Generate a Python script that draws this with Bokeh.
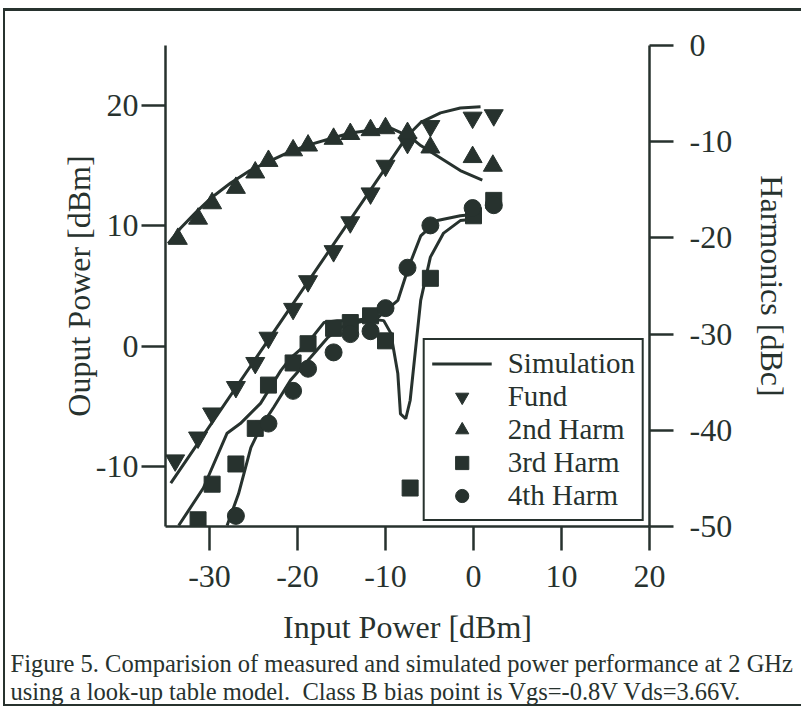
from bokeh.plotting import figure
from bokeh.models import Range1d, LinearAxis, FixedTicker, Legend, LegendItem, Title
from bokeh.embed import file_html
from bokeh.resources import INLINE

# ---- measured data ----
pin_fund = [-33.9, -31.3, -29.7, -27.0, -24.8, -23.3, -20.5, -18.8, -15.9, -14.0, -11.7, -10.0, -7.5, -4.9, -0.1, 2.3]
fund_dbm = [-9.5, -7.6, -5.6, -3.4, -1.4, 0.7, 3.1, 5.4, 7.9, 10.3, 12.7, 15.0, 16.9, 18.3, 19.0, 19.2]

pin_h2 = [-33.6, -31.3, -29.7, -27.0, -24.8, -23.3, -20.5, -18.8, -15.9, -14.0, -11.7, -10.0, -7.5, -4.9, -0.1, 2.2]
harm2_dbc = [-20.1, -18.0, -16.4, -14.8, -13.2, -12.0, -10.9, -10.4, -9.7, -9.2, -8.8, -8.6, -9.1, -10.6, -11.6, -12.5]

pin_h3 = [-31.3, -29.7, -27.0, -24.8, -23.3, -20.5, -18.8, -15.9, -14.0, -11.7, -10.0, -7.2, -4.9, 0.0, 2.3]
harm3_dbc = [-49.3, -45.6, -43.5, -39.8, -35.3, -33.0, -31.0, -29.4, -28.8, -28.1, -30.7, -46.0, -24.2, -17.7, -16.1]

pin_h4 = [-27.0, -23.3, -20.5, -18.8, -15.9, -14.0, -11.7, -10.0, -7.5, -4.9, -0.1, 2.3]
harm4_dbc = [-48.9, -39.3, -35.9, -33.6, -31.9, -30.0, -29.7, -27.3, -23.1, -18.7, -16.9, -16.6]

# ---- simulation curves ----
sim_fund_x = [-34.4, -7.5, -6.0, -3.75, -1.5, 0.8]
sim_fund_y = [-11.4, 17.5, 18.6, 19.4, 19.8, 19.9]

sim_h2_x = [-34.7, -33.3, -31.6, -29.9, -27.6, -25.4, -23.1, -20.8, -18.6, -16.3, -14.0, -11.7, -9.4, -7.2, -6.0, -3.75, -1.5, 1.0]
sim_h2_y = [-20.6, -19.0, -17.4, -15.9, -14.3, -13.0, -12.0, -11.0, -10.3, -9.7, -9.1, -8.8, -8.6, -9.5, -10.4, -11.7, -13.0, -14.0]

sim_h3_x = [-33.5, -30.7, -28.0, -26.5, -24.2, -21.9, -20.8, -18.9, -17.0, -15.5, -14.0, -12.0, -10.2, -9.4, -8.6, -8.3, -7.7, -7.2, -6.6, -6.0, -4.9, -3.4, -1.5, 0.5]
sim_h3_y = [-49.9, -46.0, -40.3, -39.3, -37.2, -33.8, -32.5, -31.0, -28.8, -28.6, -28.6, -28.4, -28.6, -29.9, -34.1, -38.3, -38.8, -36.9, -31.7, -26.5, -22.0, -19.5, -18.2, -18.0]

sim_h4_x = [-28.0, -26.7, -25.3, -24.2, -22.7, -20.8, -18.5, -16.6, -15.1, -13.2, -10.9, -8.6, -7.4, -6.0, -4.1, -1.5, 0.8]
sim_h4_y = [-49.9, -46.6, -41.8, -39.7, -37.6, -34.8, -32.4, -30.4, -29.3, -28.8, -28.3, -26.5, -23.1, -19.8, -18.2, -17.7, -17.5]

x_ticks = [-30, -20, -10, 0, 10, 20]
left_ticks = [-10, 0, 10, 20]
right_ticks = [0, -10, -20, -30, -40, -50]

INK = "#27322e"
FONT = "Liberation Serif"

p = figure(frame_width=484, frame_height=481,
           min_border_left=160, min_border_right=152, min_border_top=34, min_border_bottom=4,
           x_range=Range1d(-35, 20), y_range=Range1d(-15, 25),
           output_backend="svg", toolbar_location=None)
p.extra_y_ranges = {"harm": Range1d(-50, 0)}
p.grid.visible = False
p.outline_line_color = None
p.background_fill_color = "white"
p.border_fill_color = "white"
p.styles = {"margin-top": "8px", "margin-left": "3px",
            "border-top": "3px solid #27322e", "border-left": "2px solid #27322e",
            "border-bottom": "2px solid #27322e"}

p.xaxis.ticker = FixedTicker(ticks=x_ticks)
p.xaxis.major_label_overrides = {t: str(t) for t in x_ticks}
p.xaxis.axis_label = "Input Power [dBm]"
p.yaxis.ticker = FixedTicker(ticks=left_ticks)
p.yaxis.major_label_overrides = {t: str(t) for t in left_ticks}
p.yaxis.axis_label = "Ouput Power [dBm]"

ax_r = LinearAxis(y_range_name="harm", ticker=FixedTicker(ticks=right_ticks),
                  axis_label="Harmonics [dBc]")
ax_r.major_label_overrides = {t: str(t) for t in right_ticks}
p.add_layout(ax_r, "right")

for ax in [p.xaxis[0], p.yaxis[0], ax_r]:
    ax.axis_line_color = INK
    ax.axis_line_width = 2.5
    ax.major_tick_line_color = INK
    ax.major_tick_line_width = 2.5
    ax.major_tick_out = 24
    ax.major_tick_in = 0
    ax.minor_tick_line_color = None
    ax.major_label_text_font = FONT
    ax.major_label_text_font_size = "32px"
    ax.major_label_text_color = INK
    ax.axis_label_text_font = FONT
    ax.axis_label_text_font_size = "32px"
    ax.axis_label_text_font_style = "normal"
    ax.axis_label_text_color = INK

p.xaxis.major_label_standoff = 15
p.xaxis.axis_label_standoff = 19
p.yaxis.major_label_standoff = 3
p.yaxis.axis_label_standoff = -4
ax_r.major_label_standoff = 16
ax_r.axis_label_standoff = 19

# caption
cap1 = Title(text="Figure 5. Comparision of measured and simulated power performance at 2 GHz",
             align="left", offset=-155, text_font=FONT, text_font_size="24.5px",
             text_font_style="normal", text_color=INK, standoff=0)
cap2 = Title(text="using a look-up table model.\u00a0 Class B bias point is Vgs=-0.8V Vds=3.66V.",
             align="left", offset=-155, text_font=FONT, text_font_size="24.5px",
             text_font_style="normal", text_color=INK, standoff=-1)
p.add_layout(cap1, "below")
p.add_layout(cap2, "below")

# simulation lines
r_sf = p.line(sim_fund_x, sim_fund_y, line_color=INK, line_width=3)
p.line(sim_h2_x, sim_h2_y, line_color=INK, line_width=3, y_range_name="harm")
p.line(sim_h3_x, sim_h3_y, line_color=INK, line_width=3, y_range_name="harm")
p.line(sim_h4_x, sim_h4_y, line_color=INK, line_width=3, y_range_name="harm")

# measured markers
r_f = p.scatter(pin_fund, fund_dbm, marker="inverted_triangle", size=19,
                fill_color=INK, line_color=INK)
r_2 = p.scatter(pin_h2, harm2_dbc, marker="triangle", size=19,
                fill_color=INK, line_color=INK, y_range_name="harm")
r_3 = p.scatter(pin_h3, harm3_dbc, marker="square", size=16,
                fill_color=INK, line_color=INK, y_range_name="harm")
r_4 = p.scatter(pin_h4, harm4_dbc, marker="circle", size=17,
                fill_color=INK, line_color=INK, y_range_name="harm")

legend = Legend(items=[LegendItem(label="Simulation", renderers=[r_sf]),
                       LegendItem(label="Fund", renderers=[r_f]),
                       LegendItem(label="2nd Harm", renderers=[r_2]),
                       LegendItem(label="3rd Harm", renderers=[r_3]),
                       LegendItem(label="4th Harm", renderers=[r_4])],
                location="bottom_right", margin=5, padding=7, spacing=0,
                glyph_width=60, glyph_height=33, label_height=33, label_standoff=16,
                label_text_font=FONT, label_text_font_size="29px", label_text_color=INK,
                border_line_color=INK, border_line_width=2.5, border_line_alpha=1.0,
                background_fill_alpha=1.0)
p.add_layout(legend)

open("out.html", "w").write(file_html(p, INLINE))
